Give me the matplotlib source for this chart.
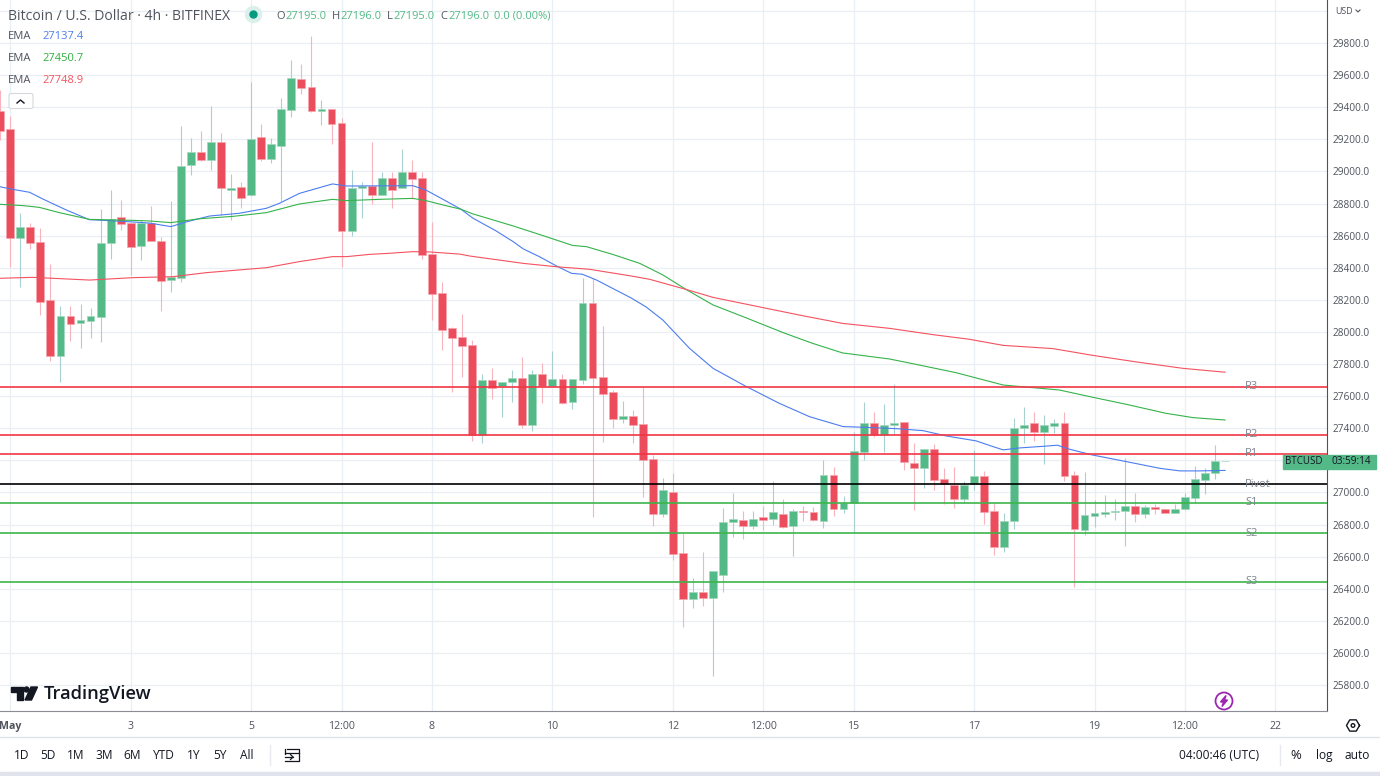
import numpy as np
import matplotlib
matplotlib.use('Agg')
import matplotlib.pyplot as plt
from matplotlib.patches import Circle, FancyBboxPatch, Polygon, Rectangle

plt.rcParams['font.family'] = ['Open Sans', 'DejaVu Sans']

# Candles, 4h
opens = [29376, 29262, 28583, 28654, 28560, 28197, 27850, 28099, 28053, 28068,
         28095, 28552, 28716, 28681, 28533, 28676, 28568, 28325, 28336, 29040,
         29119, 29071, 29185, 28886, 28903, 28851, 29214, 29079, 29160, 29381,
         29576, 29526, 29378, 29391, 29300, 28629, 28899, 28909, 28851, 28959,
         28899, 28994, 28959, 28483, 28242, 28022, 27968, 27918, 27355, 27700,
         27663, 27688, 27713, 27422, 27736, 27663, 27706, 27563, 27700, 28182,
         27721, 27623, 27455, 27476, 27427, 27208, 26868, 27005, 26621, 26336,
         26380, 26342, 26488, 26816, 26830, 26791, 26849, 26833, 26866, 26791,
         26884, 26880, 26824, 27109, 26899, 26932, 27254, 27433, 27356, 27420,
         27439, 27184, 27154, 27271, 27084, 27046, 26959, 27051, 27100, 26884,
         26662, 26822, 27400, 27433, 27377, 27414, 27433, 27107, 26766, 26855,
         26864, 26878, 26884, 26916, 26864, 26907, 26897, 26872, 26895, 26965,
         27078, 27119, 27195]
highs = [29507, 29347, 28743, 28676, 28647, 28423, 28161, 28161, 28174, 28149,
         28764, 28884, 28822, 28681, 28697, 28784, 28589, 28816, 29281, 29208,
         29250, 29408, 29237, 28984, 28934, 29557, 29295, 29208, 29455, 29692,
         29669, 29844, 29445, 29391, 29333, 29009, 28932, 29185, 28994, 28994,
         29138, 29071, 28994, 28685, 28311, 28028, 28111, 27950, 27738, 27773,
         27690, 27763, 27844, 27763, 27806, 27883, 27738, 27704, 28336, 28338,
         28039, 27638, 27569, 27513, 27655, 27233, 27088, 27119, 26745, 26465,
         26627, 26513, 26901, 26995, 26884, 26884, 26916, 27069, 26957, 26895,
         26916, 26907, 27202, 27157, 26978, 27375, 27562, 27499, 27551, 27676,
         27439, 27310, 27271, 27302, 27150, 27157, 27071, 27265, 27134, 26932,
         26870, 27466, 27530, 27499, 27483, 27458, 27503, 27136, 27127, 26951,
         26984, 26957, 27213, 26997, 26922, 26928, 26897, 26928, 26999, 27167,
         27150, 27296, 27196]
lows = [29196, 28406, 28278, 28519, 28103, 27817, 27690, 27945, 27902, 27962,
        27939, 28454, 28635, 28354, 28448, 28564, 28130, 28247, 28309, 28980,
        29067, 29011, 28728, 28697, 28770, 28847, 29067, 29054, 28816, 29339,
        29482, 29372, 29289, 29173, 28406, 28598, 28708, 28797, 28851, 28774,
        28899, 28826, 28454, 28074, 27887, 27625, 27721, 27320, 27306, 27584,
        27468, 27563, 27403, 27385, 27555, 27663, 27551, 27522, 27675, 26849,
        27314, 27399, 27434, 27306, 26974, 26793, 26849, 26579, 26164, 26282,
        26295, 25858, 26382, 26725, 26712, 26774, 26766, 26797, 26778, 26604,
        26822, 26822, 26781, 26855, 26870, 26745, 27202, 27348, 27254, 27362,
        27140, 26891, 27026, 27015, 26928, 26905, 26936, 27015, 26803, 26610,
        26629, 26772, 27308, 27323, 27177, 27373, 27071, 26413, 26735, 26785,
        26849, 26828, 26666, 26814, 26839, 26864, 26872, 26872, 26891, 26936,
        26988, 27084, 27195]
closes = [29252, 28587, 28654, 28556, 28188, 27850, 28099, 28049, 28072, 28099,
          28554, 28701, 28672, 28529, 28676, 28564, 28317, 28342, 29034, 29119,
          29071, 29181, 28897, 28895, 28836, 29202, 29075, 29169, 29391, 29580,
          29522, 29376, 29391, 29295, 28629, 28899, 28909, 28851, 28959, 28886,
          28994, 28953, 28481, 28238, 28012, 27960, 27914, 27355, 27700, 27653,
          27690, 27713, 27422, 27736, 27663, 27704, 27559, 27704, 28182, 27713,
          27615, 27455, 27476, 27422, 27202, 26868, 27015, 26619, 26336, 26380,
          26342, 26513, 26818, 26833, 26791, 26835, 26828, 26876, 26783, 26884,
          26876, 26828, 27109, 26899, 26932, 27258, 27433, 27356, 27420, 27433,
          27192, 27150, 27271, 27078, 27051, 26961, 27046, 27100, 26880, 26662,
          26822, 27400, 27420, 27375, 27418, 27433, 27103, 26774, 26859, 26870,
          26880, 26882, 26916, 26864, 26907, 26897, 26872, 26897, 26972, 27084,
          27121, 27194, 27196]

# EMA lines, read at the bends (candle index, price)
ema_blue_x = [-0.07, 1.09, 2.92, 4.25, 6.57, 8.89, 10.9, 13.2, 14.9, 17, 18.5, 20.85, 23.8, 26.5, 27.8,
              29.8, 33.1, 34.5, 41.1, 42.4, 44.1, 45.9, 47.1, 49.4, 51.1, 52.1, 53.7, 55.4, 56.9, 58,
              59.4, 61, 62.8, 64.3, 66, 68.65, 71, 74.15, 77.6, 80.6, 83.95, 85.95, 89.3, 91.9, 94.2,
              97.2, 98.9, 99.9, 101.5, 103.85, 105.3, 106.5, 108.8, 112.15, 115.5, 117.5, 119.45, 122]
ema_blue_y = [28905, 28890, 28870, 28828, 28760, 28699, 28693, 28685, 28678, 28656, 28685, 28722, 28739, 28770, 28801,
              28863, 28922, 28909, 28911, 28884, 28826, 28764, 28708, 28629, 28562, 28517, 28469, 28411, 28365, 28359,
              28323, 28271, 28213, 28157, 28074, 27898, 27773, 27665, 27555, 27472, 27410, 27406, 27397, 27385, 27352,
              27321, 27285, 27265, 27277, 27287, 27294, 27269, 27233, 27192, 27150, 27134, 27134, 27137]
ema_green_x = [-0.07, 2.25, 3.9, 5.9, 8.9, 13.2, 14.9, 17, 19.85, 23.2, 26.5, 29.8, 33.1, 34.5, 37.8,
               41.1, 42.4, 44.1, 45.9, 47.1, 51.1, 54.4, 57, 58.4, 61, 63.7, 66, 68.3, 71, 74,
               78, 80.9, 83.9, 88.6, 91.2, 95.2, 99.9, 105.5, 108.8, 112.15, 116.1, 118.8, 122]
ema_green_y = [28795, 28787, 28776, 28743, 28701, 28695, 28691, 28681, 28705, 28720, 28743, 28797, 28826, 28818, 28826,
               28832, 28818, 28791, 28764, 28735, 28660, 28593, 28539, 28531, 28483, 28427, 28355, 28265, 28168, 28095,
               27995, 27929, 27869, 27831, 27798, 27746, 27669, 27638, 27593, 27549, 27493, 27466, 27451]
ema_red_x = [-0.07, 3.25, 8.9, 13.2, 17.2, 20.5, 26.5, 29.8, 33.1, 34.5, 36.8, 38.8, 41.1, 42.8, 45.75,
             46.75, 52.1, 55.4, 58.7, 62.7, 64.67, 68.3, 71, 76, 79.6, 83.9, 88.6, 92.9, 96.55, 99.9,
             104.85, 108.8, 113.15, 117.8, 122]
ema_red_y = [28334, 28340, 28323, 28338, 28344, 28369, 28400, 28438, 28469, 28469, 28483, 28490, 28500, 28498, 28485,
             28473, 28427, 28406, 28390, 28350, 28328, 28265, 28215, 28151, 28105, 28053, 28022, 27983, 27954, 27916,
             27896, 27854, 27813, 27773, 27749]

# Pivot levels
level_names = ['R3', 'R2', 'R1', 'Pivot', 'S1', 'S2', 'S3']
level_prices = [27659, 27358, 27241, 27050, 26936, 26747, 26444]
level_colors = ['#f23645', '#f23645', '#f23645', '#000000', '#3cb54a', '#3cb54a', '#3cb54a']

# Axis ticks
price_ticks = list(range(25800, 30000, 200))
time_ticks = [1, 13, 25, 34, 43, 55, 67, 76, 85, 97, 109, 118, 127]
time_labels = ['May', '3', '5', '12:00', '8', '10', '12', '12:00', '15', '17', '19', '12:00', '22']

range_buttons = ['1D', '5D', '1M', '3M', '6M', 'YTD', '1Y', '5Y', 'All']
range_x = [22, 48, 76, 104, 132, 164, 194, 220, 247]

GREEN = '#53b987'
RED = '#eb4d5c'
GREY = '#50535e'
GRID = '#e9eff4'

fig = plt.figure(figsize=(13.8, 7.76), dpi=100)

# Chart area, 1327 x 711 px
ax = fig.add_axes([0, 1 - 711 / 776, 1327 / 1380, 711 / 776])
ax.set_xlim(-0.02, 132.15)
ax.set_ylim(25638, 30068)
ax.yaxis.tick_right()
ax.set_yticks(price_ticks)
# the 27200 label sits under the price tag
ax.set_yticklabels(['' if p == 27200 else f'{p:.1f}' for p in price_ticks], fontsize=7.3, color=GREY)
ax.set_xticks(time_ticks)
ax.set_xticklabels(time_labels, fontsize=7.6, color=GREY)
ax.get_xticklabels()[0].set_fontweight('bold')
ax.tick_params(axis='both', length=0)
ax.tick_params(axis='x', pad=7)
ax.tick_params(axis='y', pad=4)
ax.grid(True, color=GRID, linewidth=0.9)
ax.set_axisbelow(True)
ax.axhline(30000, color=GRID, linewidth=0.9, zorder=0)
for side in ['top', 'left']:
    ax.spines[side].set_visible(False)
ax.spines['right'].set_color(GREY)
ax.spines['bottom'].set_color('#8a8d96')

# Candles
idx = np.arange(len(opens))
o = np.array(opens)
c = np.array(closes)
up = c >= o
wick_colors = np.where(up, '#a9d0d0', '#f8b4bd')
ax.vlines(idx, lows, highs, colors=wick_colors, linewidth=0.8, zorder=2)
ax.bar(idx, np.abs(c - o), bottom=np.minimum(o, c), width=0.78,
       color=np.where(up, GREEN, RED), edgecolor=np.where(up, '#a4d8bf', '#f6a6ae'),
       linewidth=0.5, zorder=3)

# EMAs
ax.plot(ema_blue_x, ema_blue_y, color='#4b7df0', linewidth=0.8, zorder=4)
ax.plot(ema_green_x, ema_green_y, color='#35b34a', linewidth=0.8, zorder=4)
ax.plot(ema_red_x, ema_red_y, color='#f4525f', linewidth=0.8, zorder=4)

# Pivot levels
for name, price, col in zip(level_names, level_prices, level_colors):
    ax.axhline(price, color=col, linewidth=1.2, zorder=5)
    ax.text(124.0, price, name, fontsize=8, color='#7d8590', va='center', ha='left', zorder=6)

# Everything around the chart, in screen pixels
ov = fig.add_axes([0, 0, 1, 1])
ov.set_xlim(0, 1380)
ov.set_ylim(776, 0)
ov.axis('off')
ov.patch.set_alpha(0)


def label(x, y, s, size=8, color=GREY, ha='left', **kw):
    # open sans sits a bit high when centred
    return ov.text(x, y + 1.5, s, fontsize=size, color=color, ha=ha, va='center', **kw)


# Header
label(8, 15, 'Bitcoin / U.S. Dollar \u00b7 4h \u00b7 BITFINEX', size=10.1)
ov.add_patch(Circle((253.5, 14.5), 8, color='#dbf0ea', zorder=2))
ov.add_patch(Circle((253.5, 14.5), 3.5, color='#089981', zorder=3))
for x, name, val_x, val in [(276, 'O', 285, '27195.0'), (332, 'H', 340, '27196.0'),
                            (387, 'L', 393, '27195.0'), (440, 'C', 448, '27196.0')]:
    label(x, 15, name, size=8)
    label(val_x, 15, val, size=8, color=GREEN)
label(494, 15, '0.0 (0.00%)', size=8, color=GREEN)

# EMA legend
for y, val, col in [(35, '27137.4', '#4b7df0'), (57, '27450.7', '#2eb03f'), (79, '27748.9', '#f4525f')]:
    label(8, y, 'EMA', size=8)
    label(42, y, val, size=8, color=col)
ov.add_patch(FancyBboxPatch((9, 93.5), 24, 15, boxstyle='round,pad=0,rounding_size=2',
                            facecolor='white', edgecolor='#d6d8de', linewidth=0.8))
ov.plot([17, 20.5, 24], [103, 100, 103], color='#131722', linewidth=1)

# Logo
ov.add_patch(Polygon([(11, 687), (23, 687), (23, 700), (17, 700), (17, 692), (11, 692)], color='#131722'))
ov.add_patch(Circle((26.5, 689.5), 2.5, color='#131722'))
ov.add_patch(Polygon([(31, 687), (37.5, 687), (31.5, 700), (25, 700)], color='#131722'))
label(44, 692.5, 'TradingView', size=13.2, color='#131722', fontweight='semibold')

# Price tag
ov.add_patch(Rectangle((1283, 455), 42, 14, color=GREEN, zorder=6))
ov.add_patch(Rectangle((1326, 455), 50, 14, color=GREEN, zorder=6))
label(1304, 460.5, 'BTCUSD', size=7, color='#131722', ha='center', zorder=7)
label(1351, 460.5, '03:59:14', size=7.2, color='#131722', ha='center', zorder=7)
label(1335, 9.5, 'USD', size=6.4)
ov.plot([1356, 1358, 1360], [10, 12, 10], color=GREY, linewidth=0.8)

# Lightning and settings icons
ov.add_patch(Circle((1224, 701), 8.5, facecolor='none', edgecolor='#9c27b0', linewidth=1.3))
ov.add_patch(Polygon([(1226, 695.5), (1220.5, 702), (1223.5, 702), (1222, 706.5), (1227.5, 700), (1224.5, 700)],
                     color='#9c27b0'))
hex_t = np.deg2rad(np.arange(0, 361, 60))
ov.plot(1353 + 6.5 * np.cos(hex_t), 725.5 + 6.5 * np.sin(hex_t), color='#131722', linewidth=1)
ov.add_patch(Circle((1353, 725.5), 1.8, facecolor='none', edgecolor='#131722', linewidth=1))

# Bottom toolbar
ov.plot([0, 1380], [737, 737], color='#e0e3eb', linewidth=1)
ov.add_patch(Rectangle((0, 772), 1380, 4, color='#e0e3eb'))
for s, x in zip(range_buttons, range_x):
    label(x, 754, s, size=8.6, color='#131722', ha='center')
ov.plot([269.5, 269.5], [745, 765], color='#e8eaf0', linewidth=1)
ov.plot([1279.5, 1279.5], [745, 765], color='#e8eaf0', linewidth=1)
ov.plot([287, 299, 299, 285], [749, 749, 761, 761], color='#131722', linewidth=0.9)
ov.plot([285, 285], [749, 754], color='#131722', linewidth=0.9)
ov.plot([285, 299], [752.5, 752.5], color='#131722', linewidth=0.9)
ov.plot([285, 293], [757, 757], color='#131722', linewidth=0.9)
ov.plot([290.5, 293, 290.5], [754.5, 757, 759.5], color='#131722', linewidth=0.9)
label(1179, 754, '04:00:46 (UTC)', size=8.6, color='#131722')
label(1296, 754, '%', size=9.4, color='#131722', ha='center')
label(1324, 754, 'log', size=8.6, color='#131722', ha='center')
label(1357, 754, 'auto', size=8.6, color='#131722', ha='center')

fig.savefig('out.png', dpi=100)
